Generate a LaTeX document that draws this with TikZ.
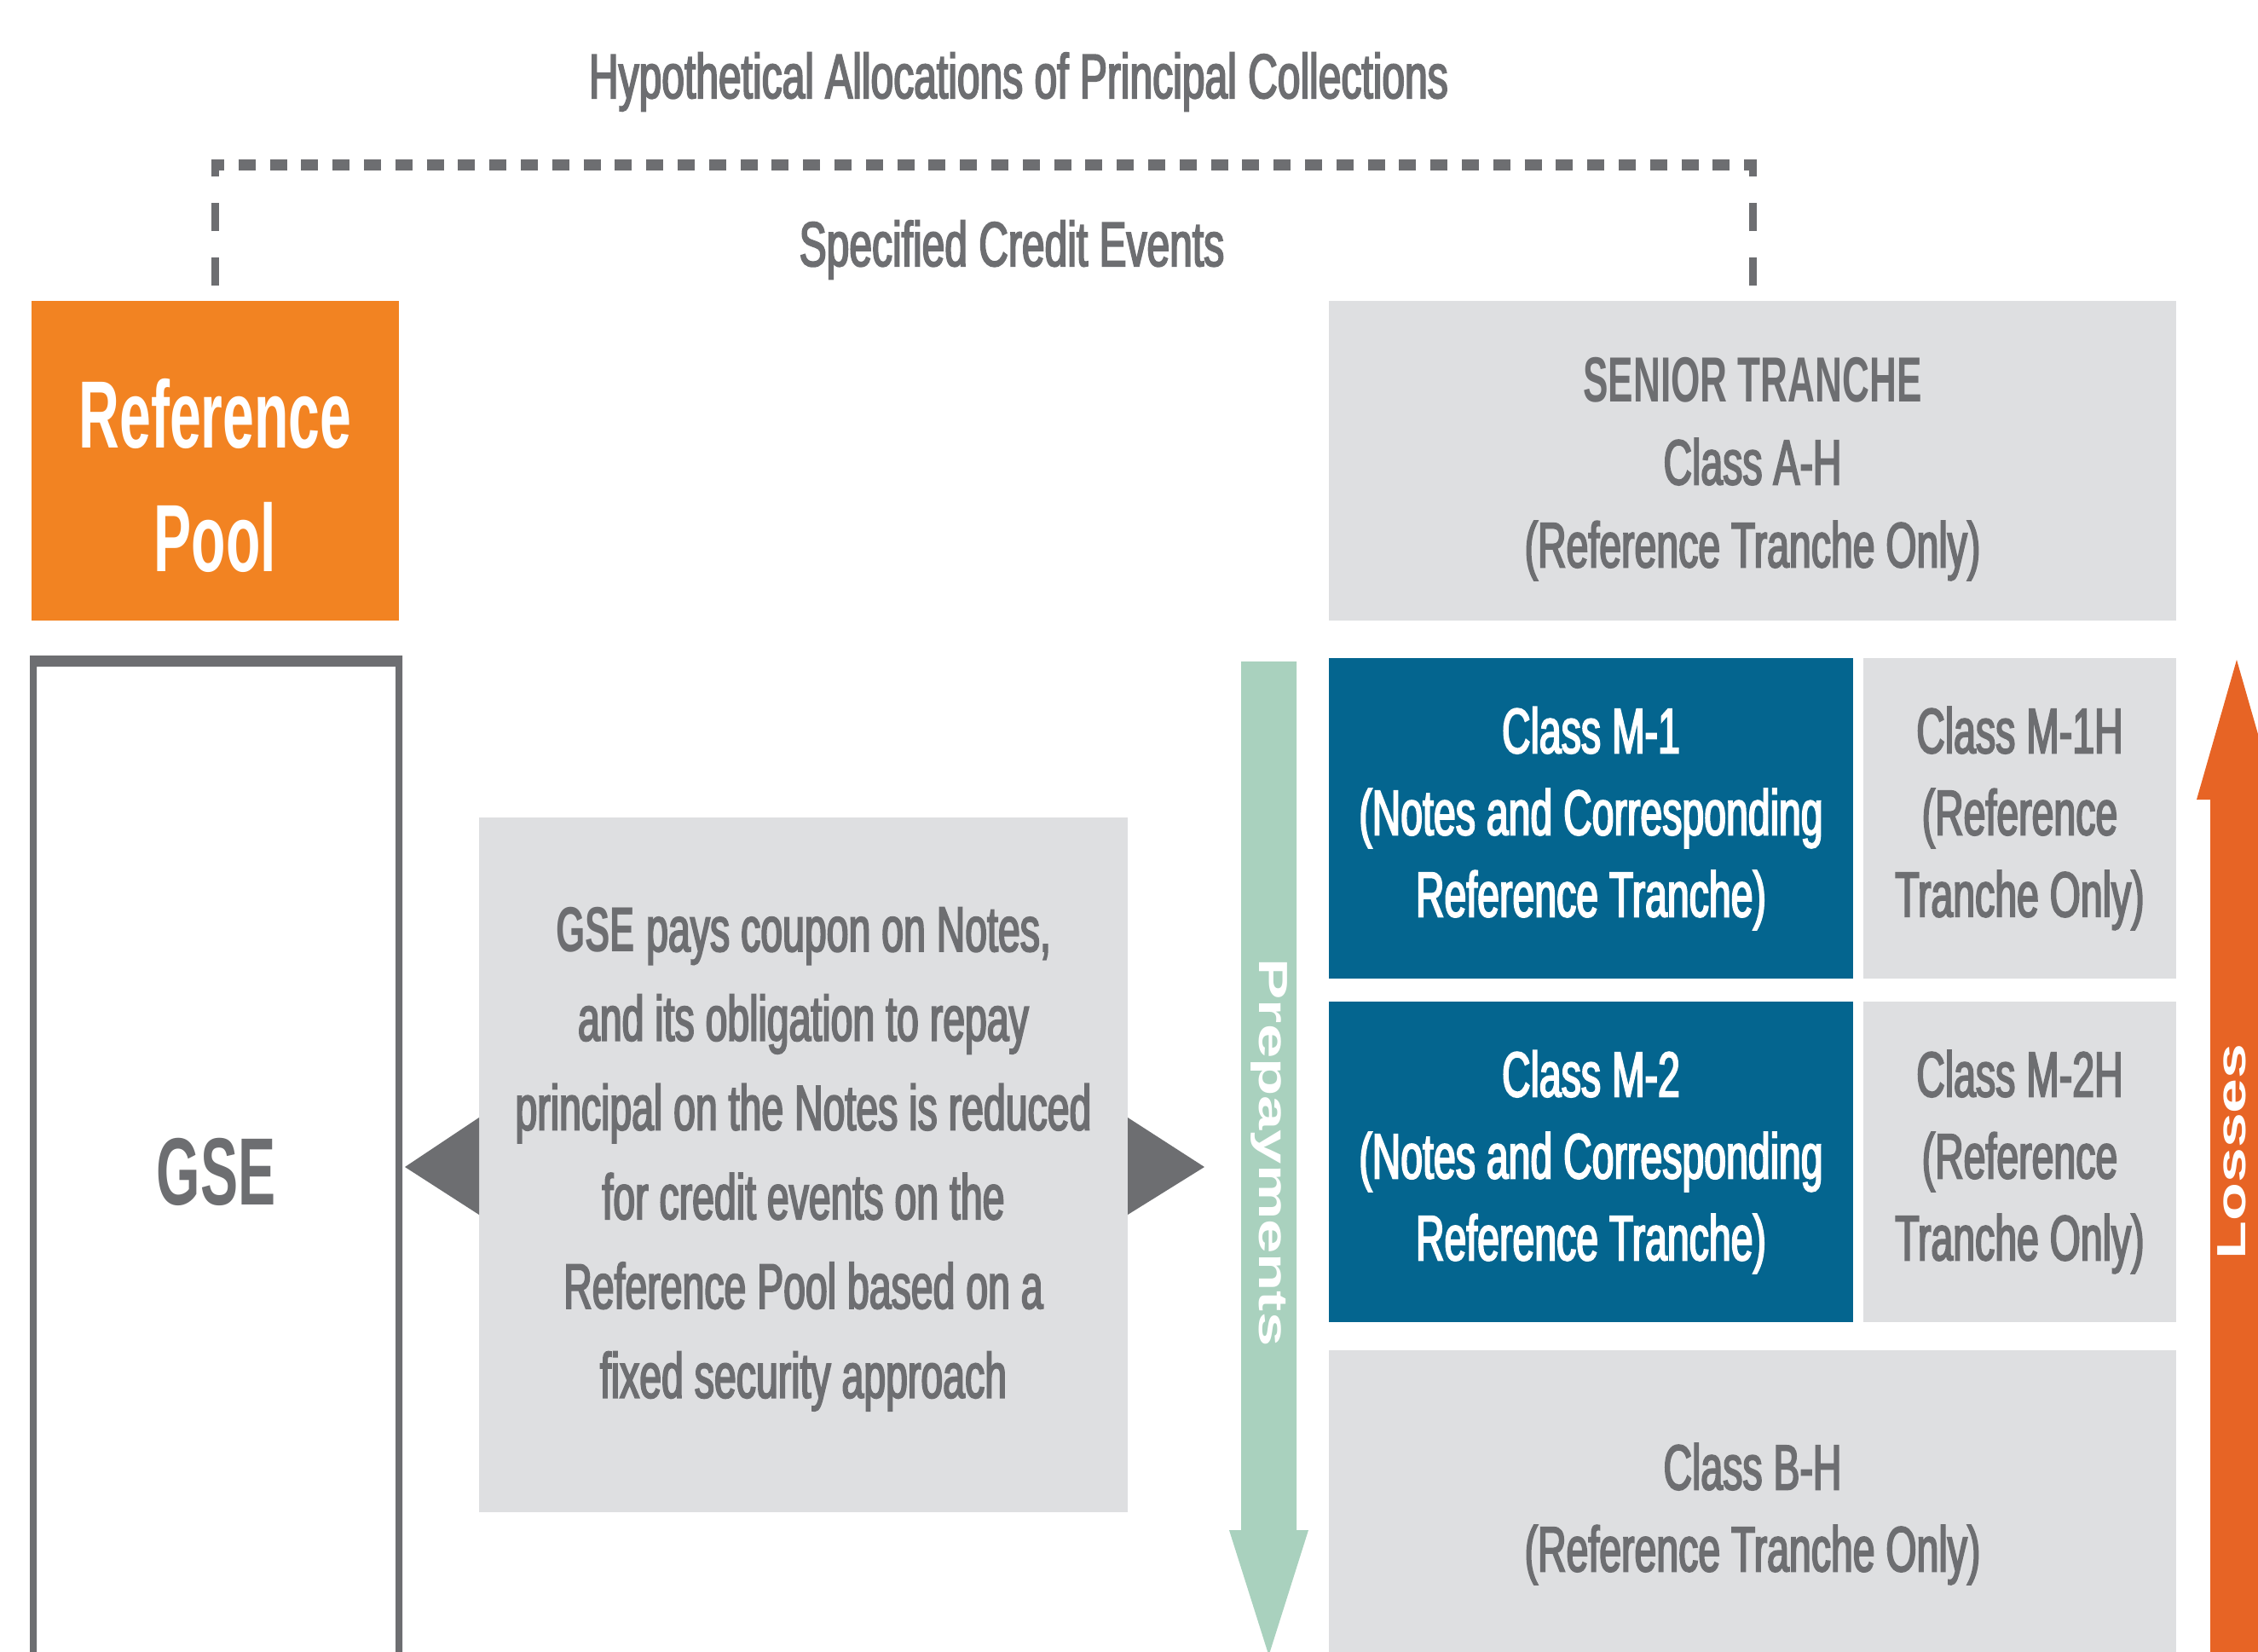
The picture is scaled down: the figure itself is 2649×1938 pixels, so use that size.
\documentclass[tikz,border=0pt]{standalone}
\usepackage{fontspec}
\usepackage{graphicx}
\setmainfont{Liberation Sans}
\newfontfamily\condT[FakeStretch=0.65,FakeBold=2.5]{Liberation Sans}
\newfontfamily\condB[FakeStretch=0.62,FakeBold=2.5]{Liberation Sans}
\newfontfamily\condH[FakeStretch=0.59]{Liberation Sans}
\usetikzlibrary{calc}
\definecolor{refOrange}{HTML}{F28322}
\definecolor{lossOrange}{HTML}{E76425}
\definecolor{boxGray}{HTML}{DEDFE1}
\definecolor{txtGray}{HTML}{6D6E71}
\definecolor{noteBlue}{HTML}{04658F}
\definecolor{prepGreen}{HTML}{A9D1BE}
\begin{document}
\begin{tikzpicture}[x=0.1mm, y=-0.1mm,
  box/.style={inner sep=0pt, outer sep=0pt, draw=none},
  txt/.style={inner sep=0pt, outer sep=0pt, align=center},
  bodyfont/.style={font=\condB\fontsize{21.3}{27.3}\selectfont},
  headfont/.style={font=\condH\bfseries\fontsize{31.9}{41.3}\selectfont},
  hdash/.style={txtGray, line width=1.3mm, dash pattern=on 2mm off 1.68mm, dash phase=0.5mm},
  vdash/.style={txtGray, line width=0.9mm, dash pattern=on 3.3mm off 3.1mm},
]
\useasboundingbox (0,0) rectangle (2649,1938);
\fill[white] (0,0) rectangle (2649,1938);
\clip (0,0) rectangle (2649,1938);

% titles
\node[txt, text=txtGray, font=\condT\fontsize{21}{25}\selectfont] (title) at (1195,96) {Hypothetical Allocations of Principal Collections};
\node[txt, text=txtGray, font=\condT\fontsize{21}{25}\selectfont] (credit) at (1187,293) {Specified Credit Events};

% boxes
\node[box, fill=refOrange, minimum width=43.1mm, minimum height=37.5mm] (refpool) at (252.5,540.5) {};
\node[txt, text=white, headfont] (refpoolT) at ($(refpool.center)+(0,17.5)$) {Reference\\Pool};

\node[box, fill=boxGray, minimum width=99.4mm, minimum height=37.5mm] (senior) at (2056,540.5) {};
\node[txt, text=txtGray, font=\condB\fontsize{21.3}{27.6}\selectfont] (seniorT) at ($(senior.center)+(0,9.5)$) {{\condH\bfseries SENIOR TRANCHE}\\Class A-H\\(Reference Tranche Only)};

\node[box, fill=noteBlue, minimum width=61.5mm, minimum height=37.6mm] (m1) at (1866.5,960) {};
\node[txt, text=white, bodyfont] (m1T) at (m1.center) {Class M-1\\(Notes and Corresponding\\Reference Tranche)};

\node[box, fill=boxGray, minimum width=36.7mm, minimum height=37.6mm] (m1h) at (2369.5,960) {};
\node[txt, text=txtGray, bodyfont] (m1hT) at (m1h.center) {Class M-1H\\(Reference\\Tranche Only)};

\node[box, fill=noteBlue, minimum width=61.5mm, minimum height=37.6mm] (m2) at (1866.5,1363) {};
\node[txt, text=white, bodyfont] (m2T) at (m2.center) {Class M-2\\(Notes and Corresponding\\Reference Tranche)};

\node[box, fill=boxGray, minimum width=36.7mm, minimum height=37.6mm] (m2h) at (2369.5,1363) {};
\node[txt, text=txtGray, bodyfont] (m2hT) at (m2h.center) {Class M-2H\\(Reference\\Tranche Only)};

\node[box, fill=boxGray, minimum width=99.4mm, minimum height=36.8mm] (bh) at (2056,1768) {};
\node[txt, text=txtGray, bodyfont] (bhT) at ($(bh.center)+(0,8)$) {Class B-H\\(Reference Tranche Only)};

\node[box, fill=boxGray, minimum width=76.1mm, minimum height=81.5mm] (desc) at (942.5,1366.5) {};
\node[txt, text=txtGray, font=\condB\fontsize{21.3}{29.8}\selectfont] (descT) at ($(desc.center)+(0,-7)$) {{\condH\bfseries GSE} pays coupon on Notes,\\and its obligation to repay\\principal on the Notes is reduced\\for credit events on the\\Reference Pool based on a\\fixed security approach};

% GSE frame
\fill[txtGray, even odd rule] (35,769) rectangle (472,1950) (43,782) rectangle (464,1950);
\node[box, minimum width=43.7mm, minimum height=118.1mm] (gse) at (253.5,1359.5) {};
\node[txt, text=txtGray, headfont] (gseT) at ($(gse.center)+(0,15.5)$) {GSE};

% arrowheads from description box
\fill[txtGray] ($(desc.west)+(0,-55.5)$) -- ($(desc.west)+(-87,2.5)$) -- ($(desc.west)+(0,58.5)$) -- cycle;
\fill[txtGray] ($(desc.east)+(0,-55.5)$) -- ($(desc.east)+(90,2.5)$) -- ($(desc.east)+(0,58.5)$) -- cycle;

% dashed bracket
\coordinate (topline) at (0,193.5);
\draw[hdash] ($(refpool.north|-topline)+(-4.5,0)$) -- ($(senior.north|-topline)+(4.5,0)$);
\draw[vdash] ($(refpool.north)+(0,-18)$) -- ($(refpool.north|-topline)+(0,-6.5)$);
\draw[vdash] ($(senior.north)+(0,-18)$) -- ($(senior.north|-topline)+(0,-6.5)$);

% prepayments arrow
\fill[prepGreen] (1456,776) -- (1521,776) -- (1521,1795) -- (1535,1795) -- (1488.5,1942) -- (1442,1795) -- (1456,1795) -- cycle;
\node[txt, text=white, rotate=-90, font=\bfseries\fontsize{20.6}{24}\selectfont] (prep) at (1489,1352) {\scalebox{1}[0.66]{Prepayments}};

% losses arrow
\fill[lossOrange] (2593,1950) -- (2593,938) -- (2577,938) -- (2624,774) -- (2671,938) -- (2655,938) -- (2655,1950) -- cycle;
\node[txt, text=white, rotate=90, font=\bfseries\fontsize{20.9}{24}\selectfont] (loss) at (2618,1351) {\scalebox{1}[0.65]{Losses}};
\end{tikzpicture}
\end{document}
